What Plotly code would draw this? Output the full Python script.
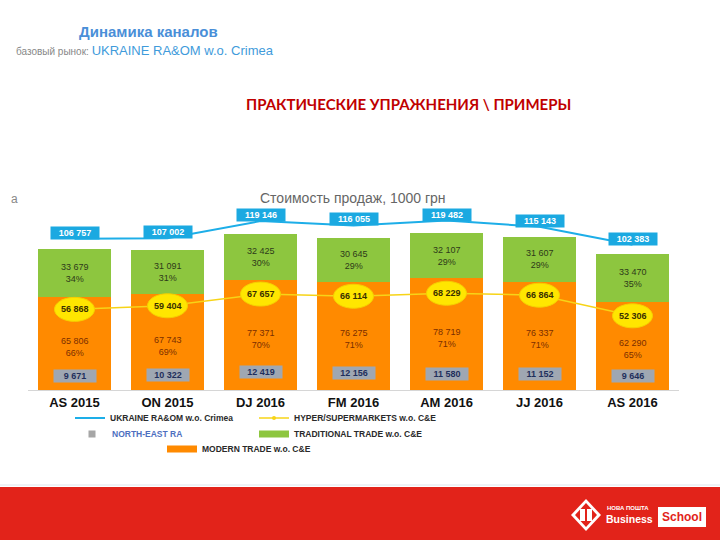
import plotly.graph_objects as go

categories = ["AS 2015", "ON 2015", "DJ 2016", "FM 2016", "AM 2016", "JJ 2016", "AS 2016"]
modern_trade = [65806, 67743, 77371, 76275, 78719, 76337, 62290]
modern_pct = ["66%", "69%", "70%", "71%", "71%", "71%", "65%"]
traditional_trade = [33679, 31091, 32425, 30645, 32107, 31607, 33470]
traditional_pct = ["34%", "31%", "30%", "29%", "29%", "29%", "35%"]
ukraine_total = [106757, 107002, 119146, 116055, 119482, 115143, 102383]
hyper_super = [56868, 59404, 67657, 66114, 68229, 66864, 52306]
north_east = [9671, 10322, 12419, 12156, 11580, 11152, 9646]

GREEN = "#8DC63F"
ORANGE = "#FF8A00"
BLUE = "#1DAEE8"
YELLOW = "#F7D417"
GRAY = "#9FA7B2"
FONT = "Liberation Sans"

def fmt(v):
    return f"{v:,}".replace(",", " ")

# plot area in pixels: x 28..679, y 200..390
def px(x):
    return (x - 28) / 651.0

def py(y):
    return (390 - y) / 190.0

fig = go.Figure()

fig.add_trace(go.Bar(
    x=categories, y=modern_trade, name="MODERN TRADE w.o. C&E",
    marker=dict(color=ORANGE, line=dict(width=0)), showlegend=False,
    hoverinfo="skip"))
fig.add_trace(go.Bar(
    x=categories, y=traditional_trade, name="TRADITIONAL TRADE w.o. C&E",
    marker=dict(color=GREEN, line=dict(width=0)), showlegend=False,
    hoverinfo="skip"))
fig.add_trace(go.Scatter(
    x=categories, y=ukraine_total, name="<b>UKRAINE RA&OM w.o. Crimea</b>",
    mode="lines", line=dict(color=BLUE, width=2), legend="legend"))
fig.add_trace(go.Scatter(
    x=categories, y=hyper_super, name="<b>HYPER/SUPERMARKETS w.o. C&E</b>",
    mode="lines+markers", line=dict(color=YELLOW, width=1.5),
    marker=dict(color=YELLOW, size=4), legend="legend2"))
fig.add_trace(go.Scatter(
    x=categories, y=north_east, name="<b>NORTH-EAST RA</b>",
    mode="markers", marker=dict(color="#A6A6A6", size=7, symbol="square"),
    legend="legend3"))
# legend swatches for the bar series (wide rectangles like the reference)
fig.add_trace(go.Scatter(x=[None], y=[None], mode="lines", name="<b>TRADITIONAL TRADE w.o. C&E</b>",
                         line=dict(color=GREEN, width=7), legend="legend4"))
fig.add_trace(go.Scatter(x=[None], y=[None], mode="lines", name="<b>MODERN TRADE w.o. C&E</b>",
                         line=dict(color=ORANGE, width=7), legend="legend5"))

shapes = []
annotations = []

for i, c in enumerate(categories):
    m = modern_trade[i]
    t = traditional_trade[i]
    annotations.append(dict(x=c, y=m + t / 2, xref="x", yref="y",
                            text=f"{fmt(t)}<br>{traditional_pct[i]}", showarrow=False,
                            font=dict(family=FONT, size=9, color="#2E3A1A")))
    annotations.append(dict(x=c, y=m / 2 - 2500, xref="x", yref="y",
                            text=f"{fmt(m)}<br>{modern_pct[i]}", showarrow=False,
                            font=dict(family=FONT, size=9, color="#7A2E00")))
    shapes.append(dict(type="circle", xref="x", yref="y", xsizemode="pixel", ysizemode="pixel",
                       xanchor=c, yanchor=hyper_super[i], x0=-20, x1=20, y0=-12, y1=12,
                       fillcolor="#FFE600", line=dict(color="#F5D000", width=1), layer="above"))
    annotations.append(dict(x=c, y=hyper_super[i], xref="x", yref="y",
                            text=f"<b>{fmt(hyper_super[i])}</b>", showarrow=False,
                            font=dict(family=FONT, size=9, color="#3A3000")))
    annotations.append(dict(x=c, y=ukraine_total[i], xref="x", yref="y", yshift=6,
                            text=f"<b>{fmt(ukraine_total[i])}</b>", showarrow=False,
                            bgcolor="#1BA9E1", borderpad=1, width=46,
                            font=dict(family=FONT, size=9, color="white")))
    annotations.append(dict(x=c, y=north_east[i], xref="x", yref="y",
                            text=f"<b>{fmt(north_east[i])}</b>", showarrow=False,
                            bgcolor=GRAY, borderpad=1, width=40,
                            font=dict(family=FONT, size=9, color="#1F2F5C")))

annotations += [
    dict(x=px(148), y=py(32), xref="paper", yref="paper", xanchor="center", yanchor="middle",
         text="<b>Динамика каналов</b>",
         showarrow=False, font=dict(family=FONT, size=15, color="#4A8FD8")),
    dict(x=px(14), y=py(50), xref="paper", yref="paper", xanchor="left", yanchor="middle",
         text="<span style='font-size:10px;color:#888'>базовый рынок: </span>UKRAINE RA&OM w.o. Crimea",
         showarrow=False, font=dict(family=FONT, size=13, color="#3F9BDB")),
    dict(x=px(408), y=py(104), xref="paper", yref="paper", xanchor="center", yanchor="middle",
         text="<b>ПРАКТИЧЕСКИЕ УПРАЖНЕНИЯ \\ ПРИМЕРЫ</b>",
         showarrow=False, font=dict(family="Lato", size=15, color="#C00000")),
    dict(x=px(9), y=py(199), xref="paper", yref="paper", xanchor="left", yanchor="middle", text="a",
         showarrow=False, font=dict(family=FONT, size=12, color="#888")),
    dict(x=px(353), y=py(198), xref="paper", yref="paper", xanchor="center", yanchor="middle",
         text="Стоимость продаж, 1000 грн",
         showarrow=False, font=dict(family=FONT, size=14, color="#666")),
    dict(x=px(605), y=py(508), xref="paper", yref="paper", xanchor="left", yanchor="middle",
         text="<b>НОВА ПОШТА</b>", showarrow=False, font=dict(family=FONT, size=6, color="white")),
    dict(x=px(604), y=py(519), xref="paper", yref="paper", xanchor="left", yanchor="middle",
         text="<b>Business</b>", showarrow=False, font=dict(family=FONT, size=10.5, color="white")),
    dict(x=px(681.5), y=py(517), xref="paper", yref="paper", xanchor="center", yanchor="middle",
         text="<b>School</b>", showarrow=False, font=dict(family=FONT, size=12, color="#E2231A")),
]

shapes += [
    dict(type="line", xref="paper", yref="paper", x0=px(0), x1=px(720), y0=py(485), y1=py(485),
         line=dict(color="#DDE6EE", width=1), layer="below"),
    dict(type="rect", xref="paper", yref="paper", x0=px(0), x1=px(720), y0=py(540), y1=py(487),
         fillcolor="#E2231A", line=dict(width=0), layer="below"),
    dict(type="rect", xref="paper", yref="paper", x0=px(658), x1=px(706), y0=py(527), y1=py(507),
         fillcolor="white", line=dict(width=0)),
    dict(type="path", xref="paper", yref="paper",
         path=f"M {px(586)},{py(499)} L {px(601)},{py(515)} L {px(586)},{py(531)} L {px(571)},{py(515)} Z",
         fillcolor="white", line=dict(width=0)),
    dict(type="path", xref="paper", yref="paper",
         path=f"M {px(586)},{py(503)} L {px(597)},{py(515)} L {px(586)},{py(527)} L {px(575)},{py(515)} Z",
         fillcolor="#E2231A", line=dict(width=0)),
    dict(type="rect", xref="paper", yref="paper", x0=px(580), x1=px(592), y0=py(521), y1=py(509),
         fillcolor="white", line=dict(width=0)),
    dict(type="line", xref="paper", yref="paper", x0=px(586), x1=px(586), y0=py(522), y1=py(508),
         line=dict(color="#E2231A", width=2)),
]

legend_common = dict(bgcolor="rgba(0,0,0,0)", font=dict(family=FONT, size=8.5, color="#2a2a2a"),
                     orientation="h", xanchor="left", yanchor="middle", itemwidth=30,
                     tracegroupgap=0)

fig.update_layout(
    width=720, height=540,
    margin=dict(l=28, r=41, t=200, b=150, autoexpand=False),
    paper_bgcolor="white", plot_bgcolor="white",
    barmode="stack", bargap=0.225,
    shapes=shapes, annotations=annotations,
    xaxis=dict(categoryorder="array", categoryarray=categories, showline=True,
               linecolor="#D6D6D6", linewidth=1, ticks="", showgrid=False, fixedrange=True,
               tickfont=dict(family=FONT, size=13, color="#111"), range=[-0.5, 6.5],
               tickprefix="<b>", ticksuffix="</b>"),
    yaxis=dict(range=[0, 134000], visible=False, showgrid=False, fixedrange=True),
    legend=dict(x=px(70), y=py(418), **legend_common),
    legend2=dict(x=px(254), y=py(418), **legend_common),
    legend3=dict(x=px(72), y=py(434), **{**legend_common, "font": dict(family=FONT, size=8.5, color="#4E6FBF")}),
    legend4=dict(x=px(254), y=py(434), **legend_common),
    legend5=dict(x=px(162), y=py(449), **legend_common),
    showlegend=True,
)

fig.write_html("out.html", config={"displayModeBar": False},
               post_script="document.body.style.margin='0px';")
